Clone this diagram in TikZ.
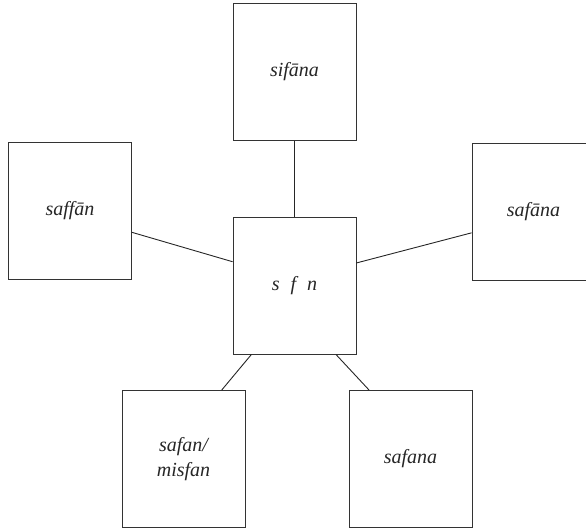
\documentclass[tikz,border=0pt]{standalone}
\usepackage{fontspec}
\setmainfont{Liberation Serif}

\begin{document}
\begin{tikzpicture}[x=1pt,y=-1pt,
  wordbox/.style={draw=black!80,line width=0.9pt,inner sep=0pt,
    minimum width=123pt,minimum height=137pt,align=center,
    font=\fontsize{20}{25}\selectfont\itshape,text=black!85},
  link/.style={draw=black!85,line width=0.9pt}]
\useasboundingbox (0,0) rectangle (586,530);

\node[wordbox] (root)   at (294.5, 285.5) {s\hspace{0.55em}f\hspace{0.55em}n};
\node[wordbox] (sifana) at (294.5, 72)    {sifāna};
\node[wordbox] (saffan) at (70, 211)      {saffān};
\node[wordbox] (safaana) at (533.5, 211.5) {safāna};
\node[wordbox] (misfan) at (183.5, 459)   {safan/\\misfan};
\node[wordbox] (safana) at (410.5, 459)   {safana};

\draw[link] (root.north) -- (sifana.south);
\draw[link] (root.159) -- (saffan.-19.5);
\draw[link] (root.20) -- (safaana.199.3);
\draw[link] (root.-122.4) -- (misfan.61.1);
\draw[link] (root.-59.4) -- (safana.121.4);
\end{tikzpicture}
\end{document}
